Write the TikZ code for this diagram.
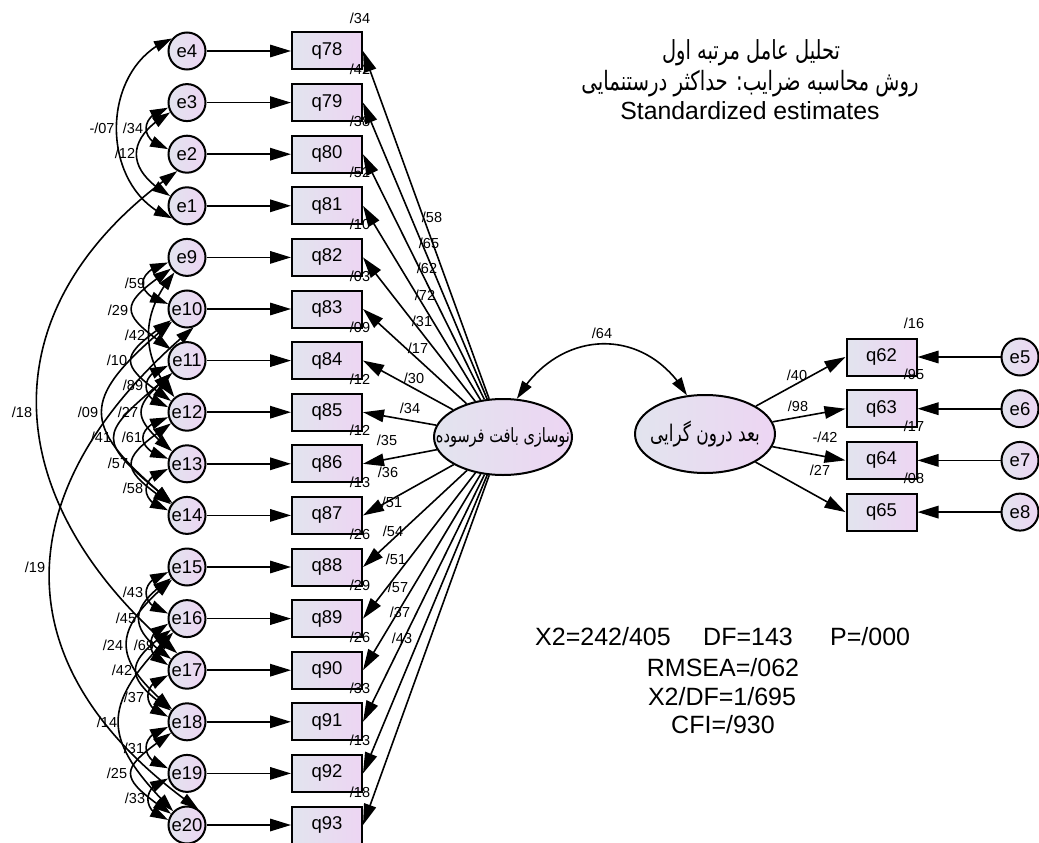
\documentclass[tikz,border=0pt]{standalone}
\usepackage{fontspec}
\usepackage{graphicx}
\setmainfont{Liberation Sans}
\newfontfamily\arabicfont[Script=Arabic]{DejaVu Sans}
\TeXXeTstate=1
\usetikzlibrary{arrows.meta,shapes.geometric,bending}
\definecolor{fillL}{RGB}{226,228,238}
\definecolor{fillR}{RGB}{237,213,243}
\tikzset{
  err/.style={circle, draw, line width=2pt, minimum size=37pt, inner sep=0pt, left color=fillL, right color=fillR, font=\fontsize{18.5}{20}\selectfont},
  obs/.style={rectangle, draw, line width=2pt, minimum width=70pt, minimum height=37pt, inner sep=0pt, left color=fillL, right color=fillR, font=\fontsize{18.5}{20}\selectfont},
  lat/.style={ellipse, draw, line width=2pt, inner sep=0pt, left color=fillL, right color=fillR},
  num/.style={font=\fontsize{14.5}{16}\selectfont, inner sep=0pt},
  reg/.style={line width=1.6pt, -{Triangle[length=21pt,width=12.5pt]}},
  cov/.style={line width=1.6pt, {Triangle[length=18pt,width=11pt]}-{Triangle[length=18pt,width=11pt]}},
  big/.style={font=\fontsize{25}{28}\selectfont, inner sep=0pt},
}
\newcommand\covarc[5]{\draw[cov] (#1.#3) .. controls +(#3:#5pt) and +(#4:#5pt) .. (#2.#4);}
\newcommand\fatext[2]{\resizebox{#1}{!}{\scalebox{1}[1.35]{\arabicfont #2}}}
\begin{document}
\begin{tikzpicture}[x=1pt,y=-1pt]
\useasboundingbox (0,0) rectangle (1039,843);
% latent variables
\node[lat, minimum width=138pt, minimum height=76pt, label={[name=Ltext]center:{\fatext{134pt}{\beginR نوسازی بافت فرسوده\endR}}}] (L) at (503,437) {};
\node[lat, minimum width=140pt, minimum height=78pt, label={[name=Rtext]center:{\fatext{110pt}{\beginR بعد درون گرایی\endR}}}] (R) at (705,434) {};
% left column
\foreach \e/\q/\r/\i in {4/78/34/0, 3/79/42/1, 2/80/38/2, 1/81/52/3, 9/82/10/4, 10/83/03/5, 11/84/09/6, 12/85/12/7, 13/86/12/8, 14/87/13/9, 15/88/26/10, 16/89/29/11, 17/90/26/12, 18/91/33/13, 19/92/13/14, 20/93/18/15}{
  \pgfmathsetmacro\yy{51+51.6*\i}
  \node[err] (e\e) at (187,\yy) {e\e};
  \node[obs] (q\q) at (327,\yy) {q\q};
  \draw[reg] (e\e) -- (q\q);
  \draw[reg] (L) -- (q\q.east);
  \node[num] (r\q) at (360,\yy-33) {/\r};
}
% right column
\foreach \e/\q/\r/\i in {5/62/16/0, 6/63/95/1, 7/64/17/2, 8/65/08/3}{
  \pgfmathsetmacro\yy{357+51.7*\i}
  \node[err] (e\e) at (1020,\yy) {e\e};
  \node[obs] (q\q) at (881.5,\yy) {q\q};
  \draw[reg] (e\e) -- (q\q);
  \draw[reg] (R) -- (q\q.west);
  \node[num] (r\q) at (914,\yy-34) {/\r};
}
% loading labels
\foreach \n/\t/\x/\y in {78/58/432/217, 79/65/429/243, 80/62/427/268, 81/72/425/295, 82/31/422/321, 83/17/418/348, 84/30/414/378, 85/34/410/408, 86/35/387/440, 87/36/388/472, 88/51/392/502, 89/54/393/531, 90/51/396/559, 91/57/398/587, 92/37/400/612, 93/43/402/638}{
  \node[num] (l\n) at (\x,\y) {/\t};
}
\node[num] (l62) at (797,375) {/40};
\node[num] (l63) at (798,406) {/98};
\node[num] (l64) at (825,437) {-/42};
\node[num] (l65) at (820,470) {/27};
% factor covariance
\draw[cov] (L.70) .. controls +(60:82pt) and +(120:82pt) .. (R.115);
\node[num] (cLR) at (602,333) {/64};
% error covariances
\draw[cov] (e4.140) .. controls +(200:79pt) and +(160:79pt) .. (e1.220);
\covarc{e3}{e2}{195}{165}{30.5}
\covarc{e3}{e1}{210}{150}{52}
\covarc{e9}{e10}{195}{165}{35}
\covarc{e9}{e11}{215}{145}{65}
\covarc{e9}{e12}{230}{130}{54}
\covarc{e10}{e12}{215}{145}{66}
\covarc{e11}{e12}{195}{165}{30.5}
\covarc{e10}{e14}{220}{140}{123}
\covarc{e11}{e13}{220}{140}{54}
\covarc{e11}{e14}{220}{140}{102}
\covarc{e12}{e13}{195}{165}{35}
\covarc{e12}{e14}{215}{145}{65}
\covarc{e13}{e14}{195}{165}{30.5}
\covarc{e15}{e16}{195}{165}{30.5}
\covarc{e15}{e17}{215}{145}{53}
\covarc{e15}{e18}{220}{140}{80}
\covarc{e16}{e17}{195}{165}{24}
\covarc{e16}{e18}{215}{145}{58}
\covarc{e17}{e18}{195}{165}{28}
\covarc{e16}{e20}{225}{135}{104}
\covarc{e18}{e19}{195}{165}{30.5}
\covarc{e18}{e20}{215}{145}{66}
\covarc{e19}{e20}{195}{165}{28}
\draw[cov] (e2.240) .. controls +(215:237pt) and +(140:237pt) .. (e17.120);
\draw[cov] (e10.290) .. controls +(220:247pt) and +(145:247pt) .. (e20.55);
% covariance labels
\node[num] (ca) at (102,128) {-/07};
\foreach \n/\t/\x/\y in {b/34/133/128, c/12/125/153, d/18/22/412, e/19/35/567, f/59/135/283, g/29/118/310, h/42/135/335, i/10/117/360, j/89/133/385, k/09/88/412, l/27/128/412, m/41/101/437, n/61/132/437, o/57/118/463, p/58/133/488, q/43/133/592, r/45/126/618, s/24/113/645, t/69/144/645, u/42/122/670, v/37/134/697, w/14/107/722, x/31/134/748, y/25/117/773, z/33/135/798}{
  \node[num] (c\n) at (\x,\y) {/\t};
}
% titles
\node[big] (t1) at (751,53) {\fatext{178pt}{\beginR تحلیل عامل مرتبه اول\endR}};
\node[big] (t2) at (750,84) {\fatext{337pt}{\beginR روش محاسبه ضرایب: حداکثر درستنمایی\endR}};
\node[big, font=\fontsize{24.8}{28}\selectfont] (t3) at (750,111) {Standardized estimates};
% fit statistics
\node[big, anchor=west] (s1) at (535,637) {X2=242/405};
\node[big, anchor=west] (s2) at (703,637) {DF=143};
\node[big, anchor=west] (s3) at (830,637) {P=/000};
\node[big] (s4) at (723,668) {RMSEA=/062};
\node[big] (s5) at (722,697) {X2/DF=1/695};
\node[big] (s6) at (723,725) {CFI=/930};
\end{tikzpicture}
\end{document}
